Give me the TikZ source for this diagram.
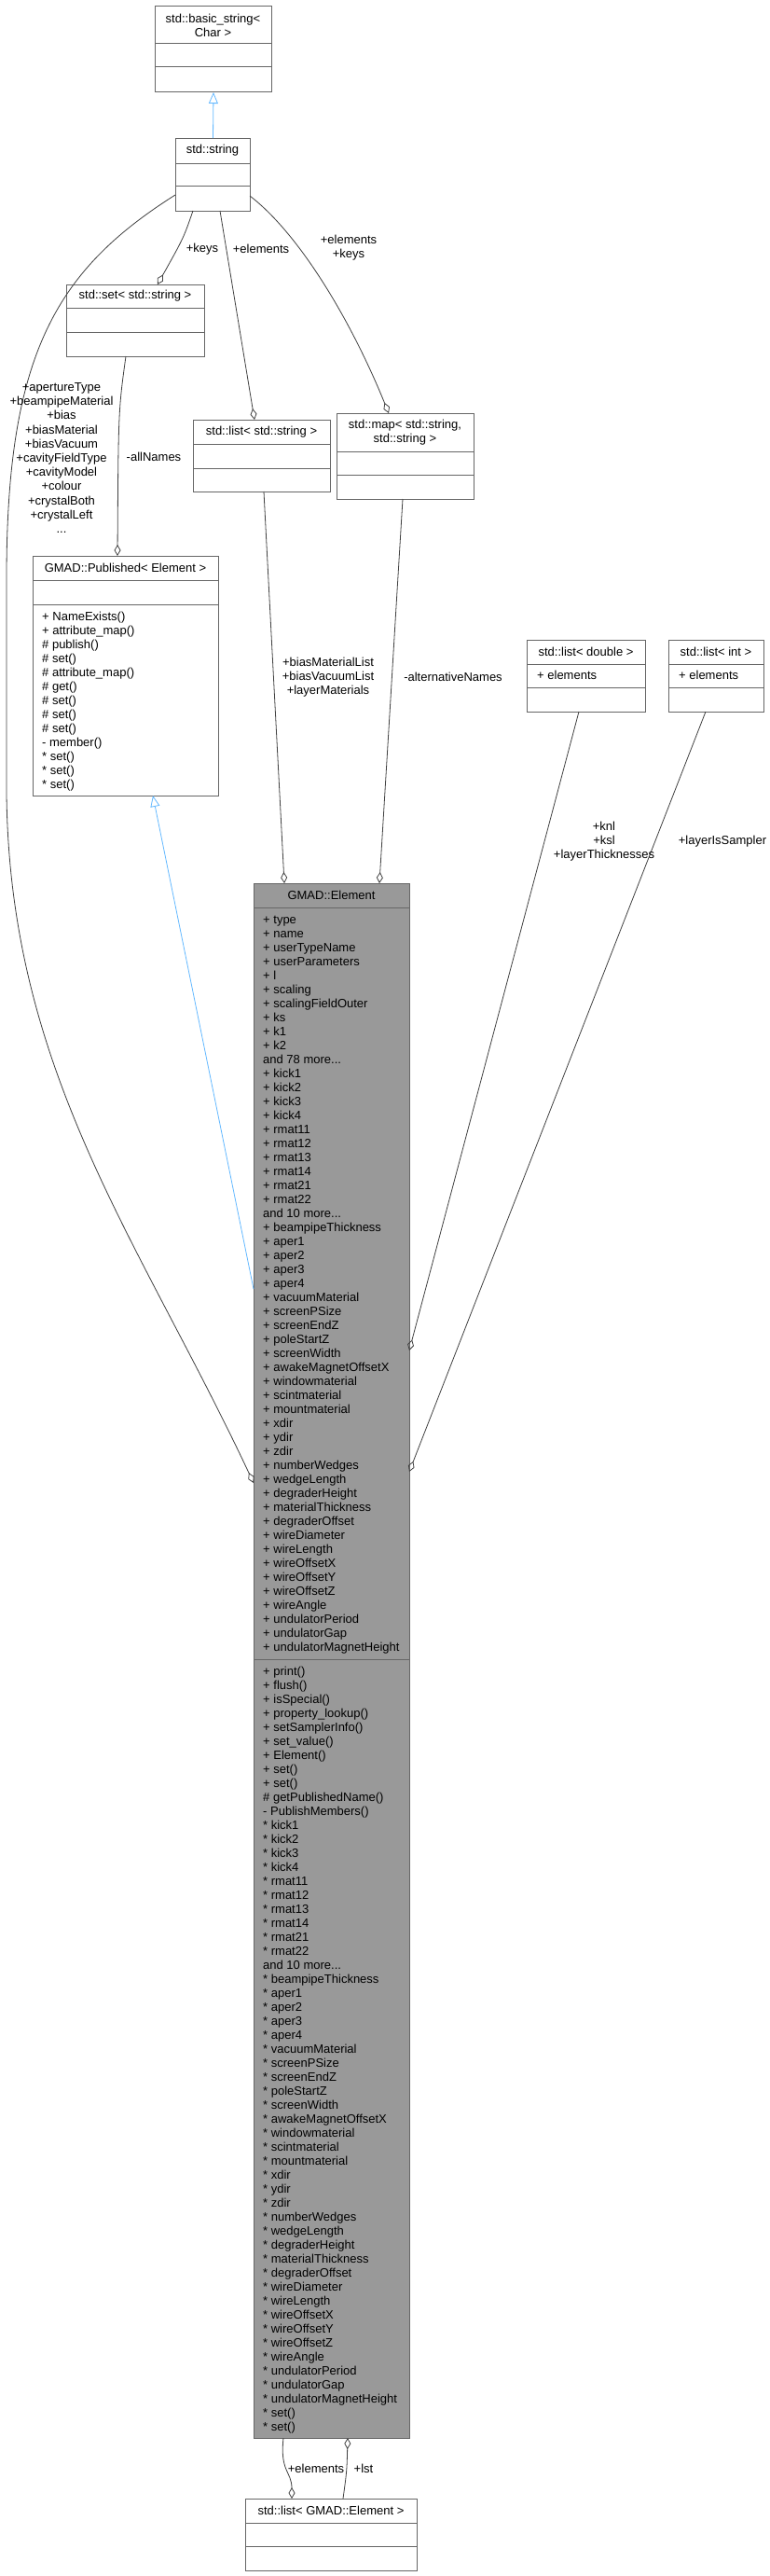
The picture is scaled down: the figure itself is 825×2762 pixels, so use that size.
\documentclass[tikz,border=0pt]{standalone}
\usepackage{fontspec}
\setmainfont{Liberation Sans}
\usetikzlibrary{arrows.meta}
\definecolor{edgec}{HTML}{404040}
\definecolor{boxc}{HTML}{666666}
\definecolor{inhc}{HTML}{63B8FF}
\definecolor{elfill}{HTML}{999999}
\newcommand\dotsthree{.\kern0pt.\kern0pt.}
\tikzset{
  box/.style={draw=boxc, line width=1pt, fill=white, inner sep=0pt, anchor=north west},
  div/.style={draw=boxc, line width=1pt},
  ln/.style={anchor=west, inner sep=0pt, text height=9.5pt, text depth=2.8pt, font=\fontsize{13}{15}\selectfont},
  ttl/.style={anchor=center, inner sep=0pt, align=center, font=\fontsize{13}{15}\selectfont},
  lbl/.style={anchor=center, inner sep=0pt, align=center, font=\fontsize{13}{15.2}\selectfont},
  agg/.style={draw=edgec, line width=0.8pt, -{Diamond[open, length=12pt, width=7pt, line width=0.8pt]}},
  aggs/.style={draw=edgec, line width=0.8pt, {Diamond[open, length=12pt, width=7pt, line width=0.8pt]}-},
  inh/.style={draw=inhc, line width=0.8pt, -{Triangle[open, length=12pt, width=10pt, line width=0.8pt, fill=white]}},
}
\begin{document}
\begin{tikzpicture}[x=1pt, y=-1pt]
\useasboundingbox (0,0) rectangle (825,2762);
% basic_string
\node[box, minimum width=125pt, minimum height=92pt] (bstr) at (166,6) {};
\draw[div] (166,47) -- (291,47) (166,72) -- (291,72);
\node[ttl] (bstrt) at (228.5,27) {std::basic\_string<\\Char >};
% std::string
\node[box, minimum width=80pt, minimum height=78pt] (str) at (188,148) {};
\draw[div] (188,175) -- (268,175) (188,199) -- (268,199);
\node[ttl] (strt) at (228,161.5) {std::string};
% set
\node[box, minimum width=148pt, minimum height=77pt] (set) at (71,305) {};
\draw[div] (71,330) -- (219,330) (71,356) -- (219,356);
\node[ttl] (sett) at (145,317.5) {std::set< std::string >};
% list<string>
\node[box, minimum width=147pt, minimum height=77pt] (lst) at (207,450) {};
\draw[div] (207,476) -- (354,476) (207,502) -- (354,502);
\node[ttl] (lstt) at (280.5,463) {std::list< std::string >};
% map
\node[box, minimum width=147pt, minimum height=92pt] (map) at (361,443) {};
\draw[div] (361,484) -- (508,484) (361,509) -- (508,509);
\node[ttl] (mapt) at (434.5,463.5) {std::map< std::string,\\std::string >};
% Published
\node[box, minimum width=199pt, minimum height=257pt] (pub) at (35,596) {};
\draw[div] (35,622) -- (234,622) (35,648) -- (234,648);
\node[ttl] (pubt) at (134.5,609) {GMAD::Published< Element >};
\foreach \t [count=\i from 0] in {+ NameExists(), + attribute\_map(), \# publish(), \# set(), \# attribute\_map(), \# get(), \# set(), \# set(), \# set(), - member(), * set(), * set(), * set()}
  \node[ln] (pm\i) at (45,662+15*\i) {\t};
% list<double>
\node[box, minimum width=127pt, minimum height=77pt] (ldbl) at (565,686) {};
\draw[div] (565,712) -- (692,712) (565,737) -- (692,737);
\node[ttl] (ldblt) at (628.5,699) {std::list< double >};
\node[ln] (ldble) at (576,725) {+ elements};
% list<int>
\node[box, minimum width=102pt, minimum height=77pt] (lint) at (717,686) {};
\draw[div] (717,712) -- (819,712) (717,737) -- (819,737);
\node[ttl] (lintt) at (768,699) {std::list< int >};
\node[ln] (linte) at (728,725) {+ elements};
% Element
\node[box, fill=elfill, minimum width=167pt, minimum height=1667pt] (el) at (272,947) {};
\draw[div] (272,973) -- (439,973) (272,1779) -- (439,1779);
\node[ttl] (elt) at (355.5,960) {GMAD::Element};
\foreach \t [count=\i from 0] in {+ type, + name, + userTypeName, + userParameters, + l, + scaling, + scalingFieldOuter, + ks, + k1, + k2, and 78 more\dotsthree, + kick1, + kick2, + kick3, + kick4, + rmat11, + rmat12, + rmat13, + rmat14, + rmat21, + rmat22, and 10 more\dotsthree, + beampipeThickness, + aper1, + aper2, + aper3, + aper4, + vacuumMaterial, + screenPSize, + screenEndZ, + poleStartZ, + screenWidth, + awakeMagnetOffsetX, + windowmaterial, + scintmaterial, + mountmaterial, + xdir, + ydir, + zdir, + numberWedges, + wedgeLength, + degraderHeight, + materialThickness, + degraderOffset, + wireDiameter, + wireLength, + wireOffsetX, + wireOffsetY, + wireOffsetZ, + wireAngle, + undulatorPeriod, + undulatorGap, + undulatorMagnetHeight}
  \node[ln] (ea\i) at (282,987+15*\i) {\t};
\foreach \t [count=\i from 0] in {+ print(), + flush(), + isSpecial(), + property\_lookup(), + setSamplerInfo(), + set\_value(), + Element(), + set(), + set(), \# getPublishedName(), - PublishMembers(), * kick1, * kick2, * kick3, * kick4, * rmat11, * rmat12, * rmat13, * rmat14, * rmat21, * rmat22, and 10 more\dotsthree, * beampipeThickness, * aper1, * aper2, * aper3, * aper4, * vacuumMaterial, * screenPSize, * screenEndZ, * poleStartZ, * screenWidth, * awakeMagnetOffsetX, * windowmaterial, * scintmaterial, * mountmaterial, * xdir, * ydir, * zdir, * numberWedges, * wedgeLength, * degraderHeight, * materialThickness, * degraderOffset, * wireDiameter, * wireLength, * wireOffsetX, * wireOffsetY, * wireOffsetZ, * wireAngle, * undulatorPeriod, * undulatorGap, * undulatorMagnetHeight, * set(), * set()}
  \node[ln] (em\i) at (282,1793+15*\i) {\t};
% list<Element>
\node[box, minimum width=184pt, minimum height=77pt] (lel) at (263,2679) {};
\draw[div] (263,2705) -- (447,2705) (263,2730) -- (447,2730);
\node[ttl] (lelt) at (355,2692) {std::list< GMAD::Element >};
% attachment coordinates
\coordinate (s1) at (207,226); \coordinate (s2) at (236,226); \coordinate (s3) at (268,210); \coordinate (s4) at (188,209);
\coordinate (setT) at (169,305); \coordinate (setB) at (135,382);
\coordinate (lstT) at (273,450); \coordinate (lstB) at (283,527);
\coordinate (mapT) at (417,443); \coordinate (mapB) at (432,535);
\coordinate (pubT) at (126,596); \coordinate (pubB) at (164,853);
\coordinate (elT1) at (305,947); \coordinate (elT2) at (407,947);
\coordinate (elL1) at (272,1382); \coordinate (elL2) at (272,1590);
\coordinate (elR1) at (439,1448); \coordinate (elR2) at (439,1578);
\coordinate (ldB) at (621,763); \coordinate (liB) at (757,763);
\coordinate (elB1) at (304,2614); \coordinate (elB2) at (373,2614);
\coordinate (lelT1) at (313,2679); \coordinate (lelT2) at (368,2679);
% edges
\draw[inh] (str.north) -- (bstr.south);
\draw[agg] (s1) .. controls (197,255) .. (setT);
\draw[agg] (s2) -- (lstT);
\draw[agg] (s3) .. controls (320,250) and (375,340) .. (mapT);
\draw[agg] (s4) .. controls (60,290) and (7,380) .. (7,620) -- (7,850) .. controls (10,1150) and (150,1330) .. (elL2);
\draw[agg] (setB) .. controls (127,440) .. (pubT);
\draw[agg] (lstB) -- (elT1);
\draw[agg] (mapB) -- (elT2);
\draw[inh] (elL1) -- (pubB);
\draw[agg] (ldB) -- (elR1);
\draw[agg] (liB) -- (elR2);
\draw[agg] (elB1) .. controls (300,2650) and (313,2650) .. (lelT1);
\draw[aggs] (elB2) .. controls (372,2650) .. (lelT2);
% labels
\node[lbl] (lb1) at (217,267) {+keys};
\node[lbl] (lb2) at (280,267) {+elements};
\node[lbl] (lb3) at (374,266) {+elements\\+keys};
\node[lbl] (lb4) at (66,491) {+apertureType\\+beampipeMaterial\\+bias\\+biasMaterial\\+biasVacuum\\+cavityFieldType\\+cavityModel\\+colour\\+crystalBoth\\+crystalLeft\\...};
\node[lbl] (lb5) at (165,490) {-allNames};
\node[lbl] (lb6) at (352,726) {+biasMaterialList\\+biasVacuumList\\+layerMaterials};
\node[lbl] (lb7) at (486,726) {-alternativeNames};
\node[lbl] (lb8) at (648,902) {+knl\\+ksl\\+layerThicknesses};
\node[lbl] (lb9) at (775,902) {+layerIsSampler};
\node[lbl] (lb10) at (339,2647) {+elements};
\node[lbl] (lb11) at (390,2647) {+lst};
\end{tikzpicture}
\end{document}
